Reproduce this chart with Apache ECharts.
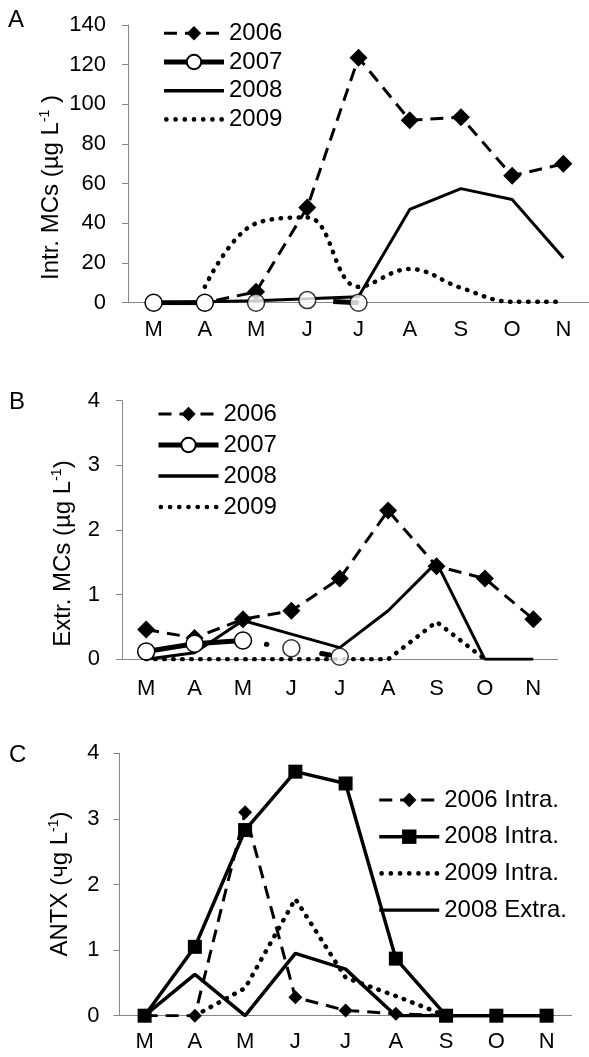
<!DOCTYPE html>
<html>
<head>
<meta charset="UTF-8">
<title>MCs and ANTX</title>
<script src="https://cdn.jsdelivr.net/npm/echarts@6/dist/echarts.min.js"></script>
<style>
html,body{margin:0;padding:0;background:#fff}
#main{width:589px;height:1057px}
</style>
</head>
<body>
<div id="main"></div>
<script>
// months, March to November
var months = ['M','A','M','J','J','A','S','O','N'];

// A: intracellular MCs (ug/L)
var intr2006 = [0, 0, 5.5, 48, 123.5, 92, 93.5, 64, 70];
var intr2007 = [0, 0, 0, 1.3, 0, null, null, null, null];
var intr2008 = [0, 0.5, 1, 2, 3, 47, 57.5, 52, 22.5];
var intr2009 = [null, 8, 40, 43, 8, 17, 7.5, 0.5, 0.5];

// B: extracellular MCs (ug/L)
var extr2006 = [0.46, 0.33, 0.62, 0.75, 1.25, 2.3, 1.44, 1.25, 0.62];
var extr2007 = [0.12, 0.24, 0.29, 0.17, 0.04, null, null, null, null];
var extr2008 = [0, 0.1, 0.6, 0.39, 0.18, 0.75, 1.5, 0, 0];
var extr2009 = [0, 0, 0, 0, 0, 0, 0.58, 0, null];

// C: ANTX (ug/L)
var antx2006i = [0, 0, 3.1, 0.28, 0.08, 0.03, 0, 0, 0];
var antx2008i = [0, 1.05, 2.83, 3.72, 3.54, 0.87, 0, 0, 0];
var antx2009i = [null, 0, 0.42, 1.78, 0.58, 0.3, 0, null, null];
var antx2008e = [0, 0.63, 0, 0.95, 0.71, 0, 0, 0, 0];

var FONT = 'Liberation Sans, Arial, sans-serif';
var axisGrey = '#868686';

// legend icons for the lines without markers
var solidIcon = 'path://M0,0H60V3.4H0Z';
var dotIcon = 'path://' + [0,1,2,3,4,5,6].map(function(i){
	var x = 2 + i * 9;
	return 'M' + x + ',2.3a2.3,2.3 0 1,0 4.6,0a2.3,2.3 0 1,0 -4.6,0';
}).join('');

var legendA = ['2006', '2007', {name:'2008', icon:solidIcon}, {name:'2009', icon:dotIcon}];
var legendC = ['2006 Intra.', '2008 Intra.', {name:'2009 Intra.', icon:dotIcon}, {name:'2008 Extra.', icon:solidIcon}];

// 2007 line is only joined over the first points, the rest are loose circles
function head(arr, n){ return arr.map(function(v,i){ return i < n ? v : null; }); }
function tail(arr, n){ return arr.map(function(v,i){ return i >= n ? v : null; }); }

function xAx(idx, margin){
	return {
		type:'category', gridIndex:idx, data:months, boundaryGap:true,
		axisLine:{lineStyle:{color:axisGrey, width:1}},
		axisTick:{length:7, lineStyle:{color:axisGrey}},
		axisLabel:{color:'#000', fontSize:22, fontFamily:FONT, margin:margin, interval:0},
		splitLine:{show:false}
	};
}
function yAx(idx, max, interval, margin){
	return {
		type:'value', gridIndex:idx, min:0, max:max, interval:interval,
		axisLine:{show:true, lineStyle:{color:axisGrey, width:1}},
		axisTick:{show:true, length:6, lineStyle:{color:axisGrey}},
		axisLabel:{color:'#000', fontSize:22, fontFamily:FONT, margin:margin},
		splitLine:{show:false}
	};
}

// line style helpers
function dashed(name, idx, data, size){
	return {name:name, type:'line', xAxisIndex:idx, yAxisIndex:idx, data:data, z:4,
		symbol:'diamond', symbolSize:size, showAllSymbol:true,
		itemStyle:{color:'#000'},
		lineStyle:{color:'#000', width:3, type:[13,8]}};
}
function thickCircle(name, idx, data){
	return {name:name, type:'line', xAxisIndex:idx, yAxisIndex:idx, data:data, z:6,
		symbol:'circle', symbolSize:17,
		itemStyle:{color:'#fff', borderColor:'#000', borderWidth:1.5},
		lineStyle:{color:'#000', width:5}};
}
function looseCircle(name, idx, data){
	return {name:name, type:'scatter', xAxisIndex:idx, yAxisIndex:idx, data:data, z:6,
		symbol:'circle', symbolSize:17,
		itemStyle:{color:'#fff', borderColor:'#000', borderWidth:1.5}};
}
// broken thick 2007 line between the loose circles
function brokenLine(name, idx, data, dash, offset, cap){
	return {name:name, type:'line', xAxisIndex:idx, yAxisIndex:idx, data:data, z:5,
		symbol:'none', itemStyle:{color:'#000'},
		lineStyle:{color:'#000', width:5, type:dash, dashOffset:offset, cap:cap}};
}
function solid(name, idx, data, w){
	return {name:name, type:'line', xAxisIndex:idx, yAxisIndex:idx, data:data, z:3,
		symbol:'none', itemStyle:{color:'#000'},
		lineStyle:{color:'#000', width:w}};
}
function dotted(name, idx, data, smooth){
	return {name:name, type:'line', xAxisIndex:idx, yAxisIndex:idx, data:data, z:2,
		symbol:'none', smooth:smooth, itemStyle:{color:'#000'},
		lineStyle:{color:'#000', width:4.5, type:[0.5,8.5], cap:'round'}};
}

function legend(data, left, top, gap){
	return {
		orient:'vertical', left:left, top:top, padding:0, itemGap:gap,
		itemWidth:60, itemHeight:18, selectedMode:false, data:data,
		lineStyle:{width:'inherit'},
		textStyle:{color:'#000', fontSize:24, fontFamily:FONT, lineHeight:24}
	};
}

function title(x, y, main, sup, rest){
	return {
		type:'text', x:x, y:y, rotation:Math.PI/2,
		style:{
			text:'{a|' + main + '}{s|' + sup + '}{a|' + rest + '}',
			align:'center', verticalAlign:'middle',
			rich:{
				a:{fontSize:24, fontFamily:FONT, fill:'#000', lineHeight:26},
				s:{fontSize:14, fontFamily:FONT, fill:'#000', lineHeight:26, verticalAlign:'top'}
			}
		}
	};
}
function letter(x, y, t){
	return {type:'text', x:x, y:y, style:{text:t, fontSize:24, fontFamily:FONT, fill:'#000', verticalAlign:'middle'}};
}

var chart = echarts.init(document.getElementById('main'), null, {renderer:'canvas'});
chart.setOption({
	backgroundColor:'#fff',
	animation:false,
	grid:[
		{left:128, top:25, width:461, height:277.7},
		{left:122, top:400.7, width:435.5, height:258.6},
		{left:119.5, top:753.3, width:452.2, height:262.4}
	],
	xAxis:[xAx(0,16), xAx(1,19), xAx(2,15)],
	yAxis:[yAx(0,140,20,22), yAx(1,4,1,22), yAx(2,4,1,20)],
	legend:[
		legend(legendA, 161.5, 21.3, 4.7),
		legend(legendA, 156, 402, 7),
		legend(legendC, 377.5, 788, 12.7)
	],
	graphic:[
		letter(8, 20, 'A'),
		letter(9, 402.5, 'B'),
		letter(9, 755.5, 'C'),
		title(51, 187.5, 'Intr. MCs (\u00b5g L', '-1', ' )'),
		title(63, 553.5, 'Extr. MCs (\u00b5g L', '-1', ')'),
		title(60, 884, 'ANTX (\u0447g L', '-1', ')')
	],
	series:[
		dotted('2009', 0, intr2009, 0.4),
		solid('2008', 0, intr2008, 3),
		dashed('2006', 0, intr2006, 18),
		thickCircle('2007', 0, head(intr2007, 2)),
		brokenLine('2007 gaps', 0, tail(intr2007, 3), [26, 100], -26, 'butt'),
		looseCircle('2007 pts', 0, tail(intr2007, 2)),

		dotted('2009', 1, extr2009, false),
		solid('2008', 1, extr2008, 3),
		dashed('2006', 1, extr2006, 18),
		thickCircle('2007', 1, head(extr2007, 3)),
		brokenLine('2007 gaps', 1, tail(extr2007, 2), [0.5, 55.5, 8, 300], -23.75, 'round'),
		looseCircle('2007 pts', 1, tail(extr2007, 3)),

		dotted('2009 Intra.', 2, antx2009i, false),
		solid('2008 Extra.', 2, antx2008e, 3.5),
		dashed('2006 Intra.', 2, antx2006i, 14),
		Object.assign(solid('2008 Intra.', 2, antx2008i, 3.5), {symbol:'rect', symbolSize:14, z:5})
	]
});
</script>
</body>
</html>
